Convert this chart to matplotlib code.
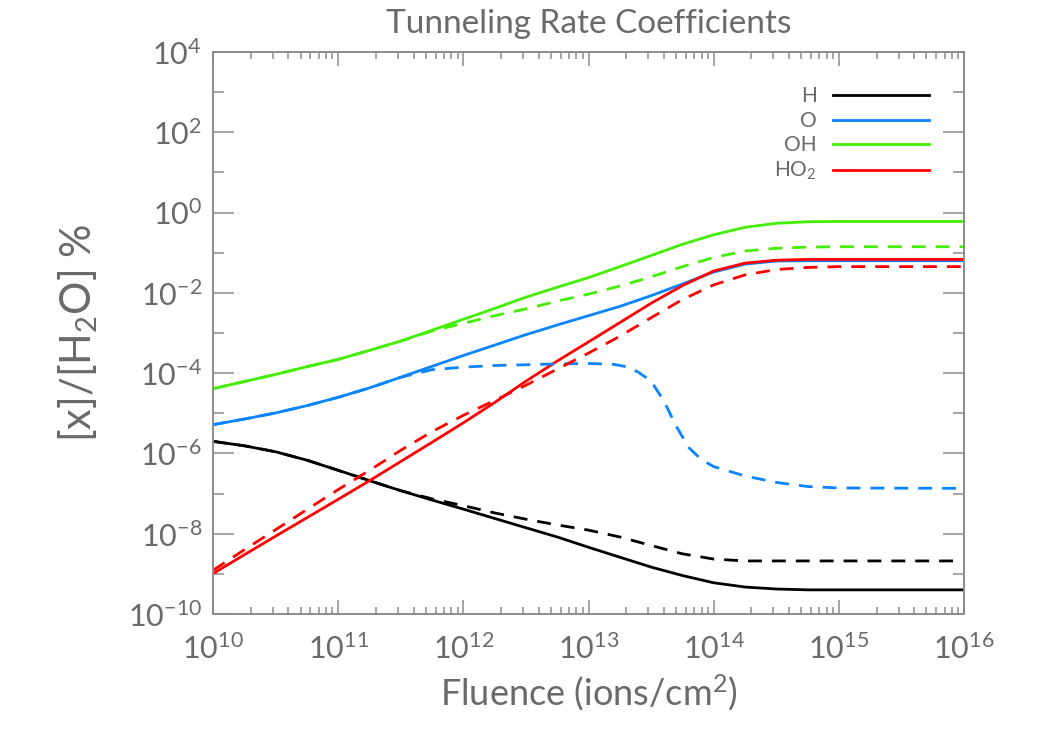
import matplotlib
matplotlib.use("Agg")
import matplotlib.pyplot as plt
from matplotlib.ticker import LogLocator, NullFormatter

plt.rcParams['font.family'] = ['Lato', 'DejaVu Sans']
plt.rcParams['mathtext.fontset'] = 'custom'
plt.rcParams['mathtext.rm'] = 'Lato'
plt.rcParams['mathtext.it'] = 'Lato'
plt.rcParams['mathtext.default'] = 'regular'

TXT = '#6a6a6a'
AXC = '#8c8c8c'

# fluence grid (ions/cm^2), quarter decades
fluence = [1e10, 1.78e10, 3.16e10, 5.62e10, 1e11, 1.78e11, 3.16e11, 5.62e11,
           1e12, 1.78e12, 3.16e12, 5.62e12, 1e13, 1.78e13, 3.16e13, 5.62e13,
           1e14, 1.78e14, 3.16e14, 5.62e14, 1e15, 1e16]

H_solid = [2.0e-6, 1.55e-6, 1.10e-6, 6.8e-7, 3.8e-7, 2.1e-7, 1.18e-7, 6.9e-8,
           4.1e-8, 2.4e-8, 1.41e-8, 8.3e-9, 4.6e-9, 2.6e-9, 1.48e-9, 9.1e-10,
           6.0e-10, 4.7e-10, 4.2e-10, 4.0e-10, 4.0e-10, 4.0e-10]
H_dash = [2.0e-6, 1.55e-6, 1.10e-6, 6.8e-7, 3.8e-7, 2.1e-7, 1.18e-7, 7.4e-8,
          5.0e-8, 3.3e-8, 2.3e-8, 1.66e-8, 1.23e-8, 8.3e-9, 5.1e-9, 3.16e-9,
          2.34e-9, 2.1e-9, 2.1e-9, 2.1e-9, 2.1e-9, 2.1e-9]

O_solid = [5.2e-6, 7.2e-6, 1.02e-5, 1.55e-5, 2.5e-5, 4.3e-5, 7.9e-5, 1.48e-4,
           2.75e-4, 5.0e-4, 9.1e-4, 1.58e-3, 2.7e-3, 4.6e-3, 8.5e-3, 0.0166,
           0.033, 0.052, 0.062, 0.063, 0.063, 0.063]

OH_solid = [4.1e-5, 6.2e-5, 9.3e-5, 1.45e-4, 2.2e-4, 3.7e-4, 6.3e-4, 1.17e-3,
            2.2e-3, 4.1e-3, 7.8e-3, 0.0138, 0.024, 0.045, 0.085, 0.162,
            0.28, 0.43, 0.54, 0.59, 0.60, 0.60]
OH_dash = [4.1e-5, 6.2e-5, 9.3e-5, 1.45e-4, 2.2e-4, 3.7e-4, 6.3e-4, 1.12e-3,
           1.74e-3, 2.7e-3, 4.0e-3, 6.2e-3, 9.3e-3, 0.0148, 0.025, 0.045,
           0.076, 0.11, 0.129, 0.138, 0.141, 0.141]

HO2_solid = [1.02e-9, 3.0e-9, 8.7e-9, 2.5e-8, 7.2e-8, 2.1e-7, 6.3e-7, 1.9e-6,
             5.8e-6, 1.86e-5, 6.3e-5, 2.0e-4, 6.0e-4, 1.82e-3, 5.5e-3, 0.0151,
             0.035, 0.055, 0.065, 0.068, 0.068, 0.068]
HO2_dash = [1.23e-9, 4.0e-9, 1.26e-8, 4.0e-8, 1.26e-7, 3.8e-7, 1.2e-6, 3.5e-6,
            8.9e-6, 2.1e-5, 5.0e-5, 1.26e-4, 3.16e-4, 8.3e-4, 2.4e-3, 6.8e-3,
            0.0158, 0.028, 0.038, 0.043, 0.045, 0.045]

# O dashed has its own grid (sharp drop near 5e13)
fluence_O = [1e10, 1.78e10, 3.16e10, 5.62e10, 1e11, 1.78e11, 3.16e11, 5.62e11,
             1e12, 1.78e12, 3.16e12, 5.62e12, 1e13, 1.58e13, 2.0e13, 2.51e13,
             3.16e13, 3.98e13, 5.01e13, 6.31e13, 7.94e13, 1e14, 1.78e14,
             3.16e14, 5.62e14, 1e15, 1e16]
O_dash = [5.2e-6, 7.2e-6, 1.02e-5, 1.55e-5, 2.5e-5, 4.3e-5, 7.9e-5, 1.22e-4,
          1.41e-4, 1.55e-4, 1.62e-4, 1.7e-4, 1.74e-4, 1.66e-4, 1.45e-4, 1.05e-4,
          6.3e-5, 2.1e-5, 4.8e-6, 1.41e-6, 7.1e-7, 4.7e-7, 2.75e-7,
          1.9e-7, 1.5e-7, 1.38e-7, 1.35e-7]

c_H = 'black'
c_O = '#0a84ff'
c_OH = '#44ee00'
c_HO2 = '#ff0000'
lw = 2.0
dash = (0, (5, 3.6))

fig = plt.figure(figsize=(10.5, 7.5), dpi=100)
ax = fig.add_axes([0.2029, 0.1813, 0.7152, 0.7494])

ax.plot(fluence, H_solid, color=c_H, lw=lw, label='H')
ax.plot(fluence, O_solid, color=c_O, lw=lw, label='O')
ax.plot(fluence, OH_solid, color=c_OH, lw=lw, label='OH')
ax.plot(fluence, HO2_solid, color=c_HO2, lw=lw, label='HO$_2$')
ax.plot(fluence, H_dash, color=c_H, lw=lw, ls=dash)
ax.plot(fluence_O, O_dash, color=c_O, lw=lw, ls=dash)
ax.plot(fluence, OH_dash, color=c_OH, lw=lw, ls=dash)
ax.plot(fluence, HO2_dash, color=c_HO2, lw=lw, ls=dash)

ax.set_xscale('log')
ax.set_yscale('log')
ax.set_xlim(1e10, 1e16)
ax.set_ylim(1e-10, 1e4)

ax.xaxis.set_major_locator(LogLocator(base=10, numticks=20))
ax.xaxis.set_minor_locator(LogLocator(base=10, subs=range(2, 10), numticks=20))
ax.xaxis.set_minor_formatter(NullFormatter())
ax.yaxis.set_major_locator(LogLocator(base=100, numticks=20))
ax.yaxis.set_minor_locator(LogLocator(base=10, subs=[1.0], numticks=30))
ax.yaxis.set_minor_formatter(NullFormatter())

for s in ax.spines.values():
    s.set_color(AXC)
    s.set_linewidth(1.4)

ax.tick_params(axis='both', which='both', direction='in', top=True, right=True,
               color=AXC, width=1.1, labelcolor=TXT, labelsize=22)
ax.tick_params(axis='x', which='major', length=10, pad=14)
ax.tick_params(axis='x', which='minor', length=5)
ax.tick_params(axis='y', which='major', length=15, pad=8)
ax.tick_params(axis='y', which='minor', length=8)

ax.set_title('Tunneling Rate Coefficients', fontsize=24, color=TXT, pad=14)
ax.set_xlabel('Fluence (ions/cm$^2$)', fontsize=26, color=TXT, labelpad=6)
ax.set_ylabel('[x]/[H$_2$O] %', fontsize=30, color=TXT, labelpad=20)

leg = ax.legend(loc='upper right', bbox_to_anchor=(0.885, 0.885),
                bbox_transform=fig.transFigure, frameon=False, markerfirst=False,
                fontsize=15, handlelength=4.6, handletextpad=0.8,
                labelspacing=0.22, borderpad=0, borderaxespad=0)
for t in leg.get_texts():
    t.set_color(TXT)

fig.savefig('out.png', dpi=100)
